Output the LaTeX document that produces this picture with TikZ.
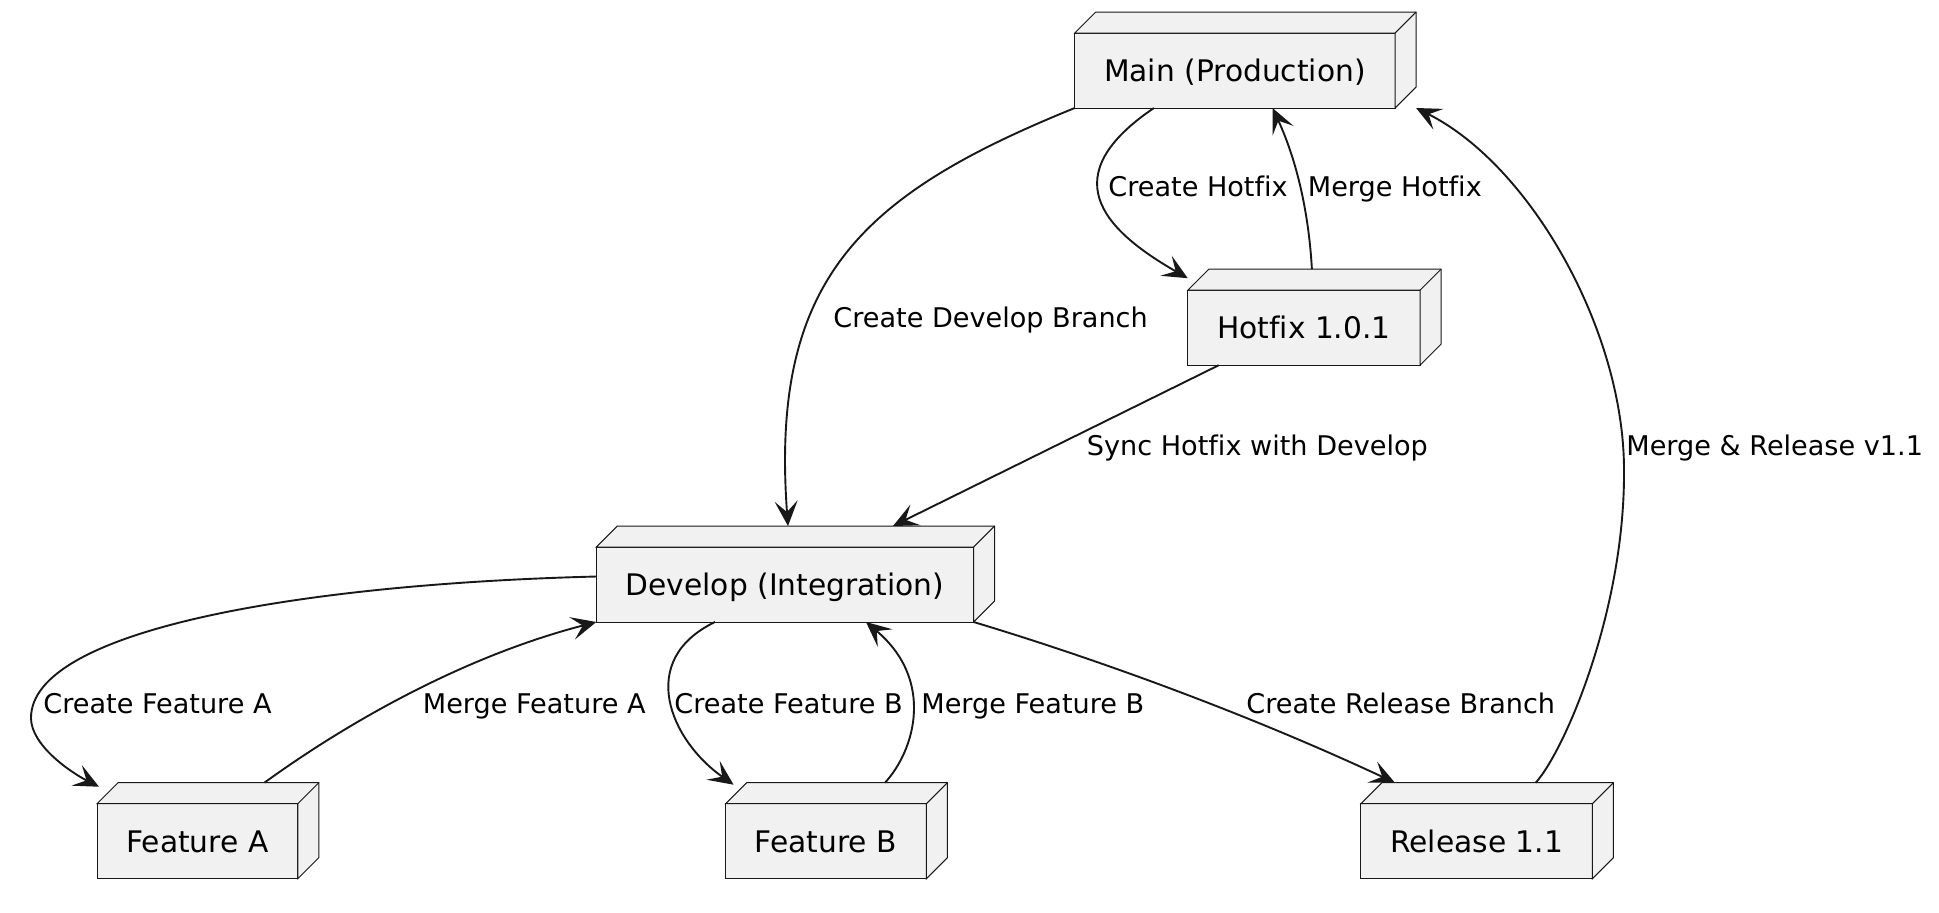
\documentclass[tikz,border=0pt]{standalone}
\usepackage{fontspec}
\setmainfont{DejaVu Sans}[Ligatures=NoCommon]
\usetikzlibrary{arrows.meta,positioning,calc}
\definecolor{boxfill}{HTML}{F1F1F1}
\definecolor{linegray}{HTML}{181818}

\begin{document}
\begin{tikzpicture}[x=0.5pt, y=-0.5pt,
    branch/.style={draw=linegray, fill=boxfill, line width=0.5pt, outer sep=0pt,
      font=\fontsize{14.85}{18}\selectfont, minimum height=37.5pt,
      inner xsep=14.7pt, text height=10.8pt, text depth=0pt},
    flow/.style={draw=linegray, line width=0.95pt,
      -{Stealth[length=12.5pt,width=11.5pt,inset=5.5pt]}},
    lbl/.style={font=\fontsize{13.55}{16}\selectfont, inner sep=0pt, anchor=base west}]
  \useasboundingbox (0,0) rectangle (1939,912);

  % branches
  \node[branch] (main) at (1234.9,70.5) {Main (Production)};
  \node[branch] (hotfix) at (1303.9,327.7) {Hotfix 1.0.1};
  \node[branch] (develop) at (785,584.5) {Develop (Integration)};
  \node[branch] (feata) at (197.4,841.2) {Feature A};
  \node[branch] (featb) at (826,841.2) {Feature B};
  \node[branch] (release) at (1476.7,841.2) {Release 1.1};

  % 3d faces
  \foreach \n in {main,hotfix,develop,feata,featb,release}{
    \draw[linegray, fill=boxfill, line width=0.5pt]
      (\n.north west) -- ++(21,-21) -- ($(\n.north east)+(21,-21)$)
      -- ($(\n.south east)+(21,-21)$) -- (\n.south east) -- (\n.north east) -- cycle;
    \draw[linegray, line width=0.5pt] (\n.north east) -- ++(21,-21);
  }

  % flows
  \draw[flow] (main.south west) .. controls (860,195) and (770,280) .. ($(develop.north)+(3,-21)$);
  \draw[flow] ($(main.south)+(-81,0)$) .. controls (1055,175) and (1100,228) .. ($(hotfix.north west)+(0,-12)$);
  \draw[flow] ($(hotfix.north)+(8,-21)$) .. controls (1308,200) and (1292,150) .. ($(main.south)+(37.6,0)$);
  \draw[flow] ($(hotfix.south west)+(31,0)$) -- ($(develop.north)+(108,-21)$);
  \draw[flow] ($(release.north)+(59,-21)$) .. controls (1565,750) and (1625,610) .. (1624,470)
    .. controls (1624,330) and (1530,165) .. ($(main.south east)+(21,0)$);
  \draw[flow] ($(develop.west)+(0,-8)$) .. controls (300,584) and (31,630) .. (31,718)
    .. controls (31,745) and (70,772) .. ($(feata.north west)+(2,-17)$);
  \draw[flow] ($(feata.north)+(67,-21)$) .. controls (330,735) and (450,660) .. (develop.south west);
  \draw[flow] ($(develop.south)+(-70,0)$) .. controls (636,660) and (670,740) .. ($(featb.north west)+(8,-19)$);
  \draw[flow] ($(featb.north)+(59,-21)$) .. controls (915,750) and (935,680) .. ($(develop.south)+(81,0)$);
  \draw[flow] (develop.south east) .. controls (1100,660) and (1250,715) .. ($(release.north west)+(34,-21)$);

  % labels
  \node[lbl] (lbldev) at (833,327) {Create Develop Branch};
  \node[lbl] (lblhot) at (1108,196) {Create Hotfix};
  \node[lbl] (lblmhot) at (1307.5,196) {Merge Hotfix};
  \node[lbl] (lblsync) at (1086.5,455.7) {Sync Hotfix with Develop};
  \node[lbl] (lblrel) at (1626,455.7) {Merge \& Release v1.1};
  \node[lbl] (lblfa) at (43,713) {Create Feature A};
  \node[lbl] (lblmfa) at (422.5,713) {Merge Feature A};
  \node[lbl] (lblfb) at (674,713) {Create Feature B};
  \node[lbl] (lblmfb) at (921,713) {Merge Feature B};
  \node[lbl] (lblrb) at (1246,713) {Create Release Branch};
\end{tikzpicture}
\end{document}
